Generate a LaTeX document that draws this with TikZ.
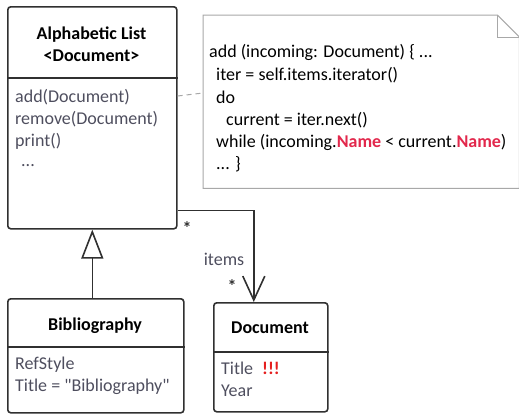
\documentclass[tikz,border=0pt]{standalone}
\usepackage{fontspec}
\setmainfont{Carlito}
\usetikzlibrary{arrows.meta}
\definecolor{edge}{HTML}{303030}
\definecolor{member}{HTML}{4E4E5E}
\definecolor{notegray}{HTML}{A8A8A8}
\definecolor{keyred}{HTML}{E2284C}
\definecolor{alertred}{HTML}{E51E1E}
\begin{document}
\begin{tikzpicture}[x=1pt,y=-1pt,
  font=\fontsize{18}{22}\selectfont,
  classbox/.style={draw=edge, line width=1.6pt, rounded corners=3pt, anchor=north west, inner sep=0pt},
  divider/.style={draw=edge, line width=1.4pt},
  cname/.style={font=\fontsize{18}{23}\selectfont\bfseries, text=black, align=center, inner sep=0pt},
  member/.style={text=member, anchor=west, inner sep=0pt},
  codeline/.style={text=black, anchor=west, inner sep=0pt},
  star/.style={text=edge, inner sep=0pt, anchor=base, font=\fontsize{18}{18}\selectfont\bfseries},
  notebox/.style={draw=notegray, line width=1pt},
  assoc/.style={draw=edge, line width=1.6pt, -{Straight Barb[length=24pt,width=22pt,line width=1.6pt]}},
  inherit/.style={draw=edge, line width=1.6pt, -{Triangle[open,length=29pt,width=22pt,line width=1.6pt,fill=white]}},
  anchorline/.style={draw=notegray, line width=1pt, dash pattern=on 5pt off 4pt}
]
\useasboundingbox (0,0) rectangle (519,413);

% class boxes
\node[classbox, minimum width=169pt, minimum height=222pt] (list) at (7,6) {};
\node[classbox, minimum width=176pt, minimum height=114pt] (bib) at (7,298) {};
\node[classbox, minimum width=114pt, minimum height=109pt] (doc) at (213,302) {};

% compartment dividers
\draw[divider] (list.west |- 0,78) -- (list.east |- 0,78);
\draw[divider] (bib.west |- 0,347) -- (bib.east |- 0,347);
\draw[divider] (doc.west |- 0,352) -- (doc.east |- 0,352);

% class names
\node[cname] (listname) at (91.5,44) {Alphabetic List\\[-1pt]<Document>};
\node[cname] (bibname) at (95,326) {Bibliography};
\node[cname] (docname) at (270,328) {Document};

% operations and attributes
\node[member] (op1) at (15,97) {add(Document)};
\node[member] (op2) at (15,119) {remove(Document)};
\node[member] (op3) at (15,141) {print()};
\node[member, anchor=base west] (op4) at (21,166) {...};
\node[member] (at1) at (15,365) {RefStyle};
\node[member] (at2) at (15,387) {Title = \textquotedbl Bibliography\textquotedbl};
\node[member] (at3) at (221,368) {Title\enspace\textcolor{alertred}{\bfseries !!!}};
\node[member] (at4) at (221,391) {Year};

% note with folded corner
\node[minimum width=316pt, minimum height=173pt, anchor=north west, inner sep=0pt] (note) at (203,15) {};
\draw[notebox] (note.south west) -- (note.north west) -- ([xshift=-22pt]note.north east)
  -- ([yshift=-22pt]note.north east) -- (note.south east) -- cycle;
\draw[notebox] ([xshift=-22pt]note.north east) -- ([xshift=-22pt,yshift=-22pt]note.north east)
  -- ([yshift=-22pt]note.north east);

\node[codeline] (c1) at (209,52) {add (incoming: Document) \{ ...};
\node[codeline] (c2) at (216,75) {iter = self.items.iterator()};
\node[codeline] (c3) at (216,97) {do};
\node[codeline] (c4) at (226,120) {current = iter.next()};
\node[codeline] (c5) at (216,142) {while (incoming.\textcolor{keyred}{\bfseries Name} < current.\textcolor{keyred}{\bfseries Name})};
\node[codeline] (c6) at (216,164) {... \}};

% note anchor
\draw[anchorline] (list.east |- 0,96) -- (note.west |- 0,93);

% generalization
\draw[inherit] (list.south |- bib.north) -- (list.south);

% association
\draw[assoc] ([yshift=19pt]list.south east) -| ([xshift=-17pt]doc.north);
\node[star] (m1) at (187,234) {*};
\node[star] (m2) at (232,292) {*};
\node[text=member, inner sep=0pt] (role) at (224,259) {items};
\end{tikzpicture}
\end{document}
